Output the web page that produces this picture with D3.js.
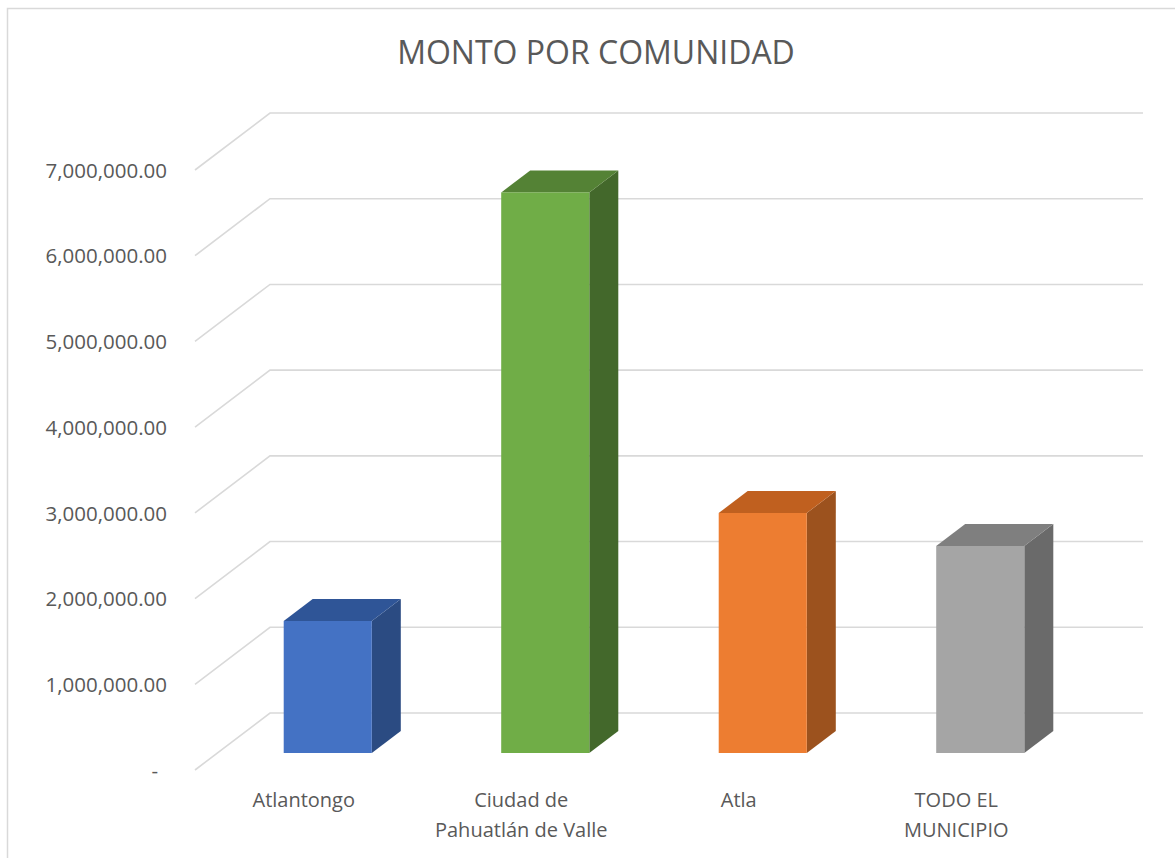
<!DOCTYPE html>
<html lang="es">
	<head>
		<meta charset="utf-8">
		<title>Monto por comunidad</title>
		<script type="text/javascript" src="https://cdn.jsdelivr.net/npm/d3@7"></script>
		<style type="text/css">
			body { margin: 0; background: #fff; }
			text { font-family: "Open Sans", sans-serif; fill: #595959; }
		</style>
	</head>
	<body>
		<script type="text/javascript">

			//Data
			var categories = ["Atlantongo", "Ciudad de Pahuatlán de Valle", "Atla", "TODO EL MUNICIPIO"];
			var categoryLines = [["Atlantongo"], ["Ciudad de", "Pahuatlán de Valle"], ["Atla"], ["TODO EL", "MUNICIPIO"]];
			var montos = [1540000, 6540000, 2800000, 2415000];
			var yTicks = [0, 1000000, 2000000, 3000000, 4000000, 5000000, 6000000, 7000000];
			var frontColors = ["#4472C4", "#70AD47", "#ED7D31", "#A5A5A5"];
			var topColors = ["#2F5597", "#548235", "#C0601F", "#7F7F7F"];
			var sideColors = ["#2B4B82", "#43682B", "#9C521E", "#6A6A6A"];

			var w = 1175;
			var h = 858;

			//3D offsets
			var wallDx = 75, wallDy = -57;     //front floor edge -> back wall
			var barDx = 24, barDy = -17;       //front floor edge -> bar front face
			var depthDx = 29, depthDy = -22;   //bar depth

			var svg = d3.select("body")
						.append("svg")
						.attr("width", w)
						.attr("height", h);

			//Chart border (only top/left visible)
			svg.append("rect")
				.attr("x", 7.5)
				.attr("y", 8.5)
				.attr("width", 1300)
				.attr("height", 1000)
				.attr("fill", "none")
				.attr("stroke", "#D9D9D9")
				.attr("stroke-width", 1.5);

			//Scales
			var yScale = d3.scaleLinear()
							.domain([0, 7000000])
							.range([770, 170]);

			var xScale = d3.scaleBand()
							.domain(categories)
							.range([195, 1065]);

			var xBar = d3.scaleBand()
							.domain(categories)
							.range([195, 1065])
							.paddingInner(0.595)
							.paddingOuter(0.2975);

			//Gridlines (floor edge going back, then across the back wall)
			svg.append("g")
				.selectAll("path")
				.data(yTicks)
				.enter()
				.append("path")
				.attr("d", function(d) {
					var y = yScale(d);
					return "M195," + y + "L" + (195 + wallDx) + "," + (y + wallDy) + "L1143," + (y + wallDy);
				})
				.attr("fill", "none")
				.attr("stroke", "#D9D9D9")
				.attr("stroke-width", 1.6);

			//Y axis
			var yAxis = d3.axisLeft(yScale)
							.tickValues(yTicks)
							.tickSize(0)
							.tickPadding(0)
							.tickFormat(function(d) {
								return d === 0 ? "-" : d3.format(",.2f")(d);
							});

			var gy = svg.append("g")
						.attr("transform", "translate(167,0)")
						.call(yAxis);
			gy.select(".domain").remove();
			gy.selectAll("text")
				.attr("font-family", null)
				.style("font-size", "20.5px")
				.attr("fill", "#595959")
				.attr("dy", "0.35em")
				.attr("x", function(d) { return d === 0 ? -9 : 0; });

			//Bars
			var bars = svg.append("g")
						.selectAll("g")
						.data(montos)
						.enter()
						.append("g");

			function x0(i) { return xBar(categories[i]) + barDx; }
			function x1(i) { return x0(i) + xBar.bandwidth(); }
			function yBase() { return yScale(0) + barDy; }
			function yTop(d) { return yScale(d) + barDy; }

			//Side face
			bars.append("path")
				.attr("d", function(d, i) {
					return "M" + x1(i) + "," + yBase() +
						"L" + x1(i) + "," + yTop(d) +
						"L" + (x1(i) + depthDx) + "," + (yTop(d) + depthDy) +
						"L" + (x1(i) + depthDx) + "," + (yBase() + depthDy) + "Z";
				})
				.attr("fill", function(d, i) { return sideColors[i]; });

			//Top face
			bars.append("path")
				.attr("d", function(d, i) {
					return "M" + x0(i) + "," + yTop(d) +
						"L" + x1(i) + "," + yTop(d) +
						"L" + (x1(i) + depthDx) + "," + (yTop(d) + depthDy) +
						"L" + (x0(i) + depthDx) + "," + (yTop(d) + depthDy) + "Z";
				})
				.attr("fill", function(d, i) { return topColors[i]; });

			//Front face
			bars.append("rect")
				.attr("x", function(d, i) { return x0(i); })
				.attr("y", function(d) { return yTop(d); })
				.attr("width", xBar.bandwidth())
				.attr("height", function(d) { return yBase() - yTop(d); })
				.attr("fill", function(d, i) { return frontColors[i]; });

			//X axis (category labels)
			var xAxis = d3.axisBottom(xScale).tickSize(0);
			var gx = svg.append("g")
						.attr("transform", "translate(0,770)")
						.call(xAxis);
			gx.select(".domain").remove();
			gx.selectAll("text")
				.attr("font-family", null)
				.style("font-size", "20px")
				.attr("fill", "#595959")
				.attr("y", 37)
				.attr("dy", null)
				.text(null)
				.each(function(d, i) {
					var t = d3.select(this);
					categoryLines[i].forEach(function(line, j) {
						t.append("tspan")
							.attr("x", 0)
							.attr("dy", j === 0 ? 0 : 30)
							.text(line);
					});
				});

			//Title
			svg.append("text")
				.attr("x", 596)
				.attr("y", 64)
				.attr("text-anchor", "middle")
				.style("font-size", "32px")
				.text("MONTO POR COMUNIDAD");

		</script>
	</body>
</html>
